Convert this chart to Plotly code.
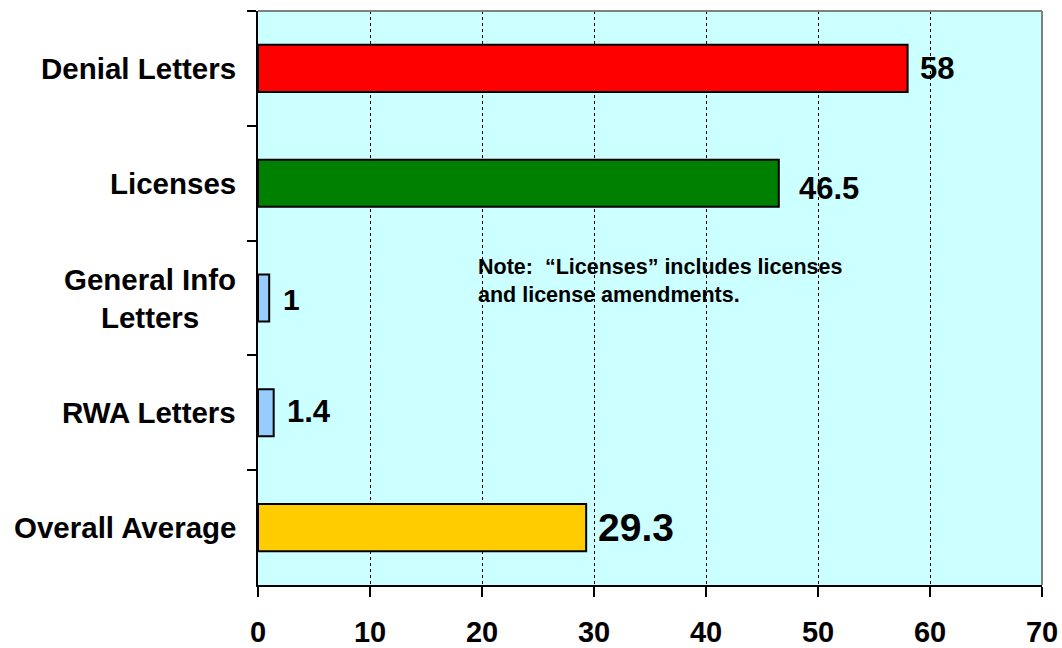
import plotly.graph_objects as go

# ---- data ----
categories = ["Denial Letters", "Licenses", "General Info<br>Letters", "RWA Letters", "Overall Average"]
values = [58, 46.5, 1, 1.4, 29.3]
value_labels = ["58", "46.5", "1", "1.4", "29.3"]
bar_colors = ["#FF0000", "#008000", "#99CCFF", "#99CCFF", "#FFCC00"]
x_ticks = [0, 10, 20, 30, 40, 50, 60, 70]
note_text = "Note:  \u201cLicenses\u201d includes licenses<br>and license amendments."

# ---- styles for value labels ----
label_sizes = [31, 31, 30, 31, 39]
label_xshift = [10, 18, 12, 11, 10]
label_yshift = [0, -5, -1, 1, 0]

FONT = "Arial, Liberation Sans, sans-serif"

fig = go.Figure()
fig.add_trace(go.Bar(
    x=values,
    y=categories,
    orientation="h",
    width=0.41,
    marker=dict(color=bar_colors, line=dict(color="black", width=2)),
    hoverinfo="x+y",
))

annotations = []
for cat, v, lab, fs, xs, ys in zip(categories, values, value_labels, label_sizes, label_xshift, label_yshift):
    annotations.append(dict(
        x=v, y=cat, xref="x", yref="y", text="<b>%s</b>" % lab, showarrow=False,
        xanchor="left", yanchor="middle", xshift=xs, yshift=ys,
        font=dict(family=FONT, size=fs, color="black"),
    ))
for cat in categories:
    annotations.append(dict(
        x=0, y=cat, xref="paper", yref="y", text="<b>%s</b>" % cat, showarrow=False,
        xanchor="right", yanchor="middle", align="center", xshift=-20,
        font=dict(family=FONT, size=29.5, color="black"),
    ))
annotations.append(dict(
    x=19.5, y=0.53, xref="x", yref="paper", text="<b>%s</b>" % note_text, showarrow=False,
    xanchor="left", yanchor="middle", align="left",
    font=dict(family=FONT, size=21.5, color="black"),
))

fig.update_layout(
    width=1062, height=648,
    margin=dict(l=258, r=20, t=11, b=63),
    paper_bgcolor="white",
    plot_bgcolor="#CCFFFF",
    showlegend=False,
    annotations=annotations,
    shapes=[
        dict(type="line", xref="paper", yref="paper", x0=0, x1=1, y0=1, y1=1,
             line=dict(color="#808080", width=2), layer="above"),
        dict(type="line", xref="paper", yref="paper", x0=1, x1=1, y0=0, y1=1,
             line=dict(color="#808080", width=2), layer="above"),
    ],
)
fig.update_xaxes(
    range=[0, 70], tickvals=x_ticks, ticktext=["<b>%d</b>" % t for t in x_ticks],
    ticks="outside", ticklen=10, tickwidth=2, tickcolor="black",
    showline=True, linecolor="black", linewidth=2, zeroline=False,
    showgrid=True, gridcolor="black", gridwidth=1, griddash="dot",
    tickfont=dict(family=FONT, size=29, color="black"),
    ticklabelstandoff=10, automargin=False,
)
fig.update_yaxes(
    type="category", autorange="reversed", categoryorder="array", categoryarray=categories,
    showticklabels=False, ticks="outside", tickson="boundaries", ticklen=9, tickwidth=2,
    tickcolor="black", showline=True, linecolor="black", linewidth=2, showgrid=False,
    zeroline=False, automargin=False,
)

fig.write_html("out.html")
